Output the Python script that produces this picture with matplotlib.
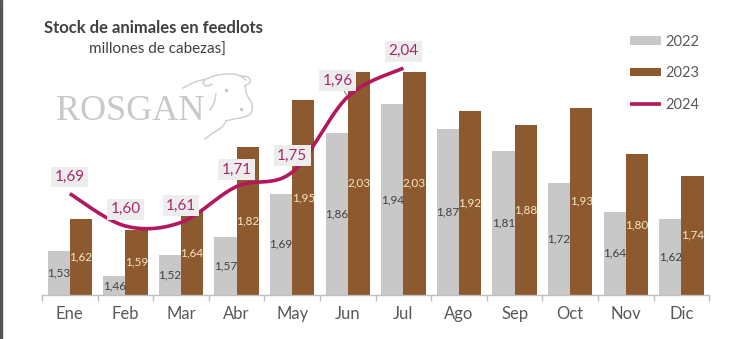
import numpy as np
import matplotlib
matplotlib.use("Agg")
import matplotlib.pyplot as plt
from matplotlib.lines import Line2D

plt.rcParams['font.family'] = ['Lato', 'DejaVu Sans']

categories = ["Ene", "Feb", "Mar", "Abr", "May", "Jun", "Jul", "Ago", "Sep", "Oct", "Nov", "Dic"]
s2022 = [1.53, 1.46, 1.52, 1.57, 1.69, 1.86, 1.94, 1.87, 1.81, 1.72, 1.64, 1.62]
s2023 = [1.62, 1.59, 1.64, 1.82, 1.95, 2.03, 2.03, 1.92, 1.88, 1.93, 1.80, 1.74]
s2024 = [1.69, 1.60, 1.61, 1.71, 1.75, 1.96, 2.04]
series_names = ["2022", "2023", "2024"]

C22 = "#C8C8C8"
C23 = "#8C5A2E"
C24 = "#B3175E"
TXT = "#595959"


def catmull(px, py, k=40):
    px = np.asarray(px, float); py = np.asarray(py, float)
    n = len(px)
    xs, ys = [], []
    for i in range(n - 1):
        p0 = np.array([px[max(i - 1, 0)], py[max(i - 1, 0)]])
        p1 = np.array([px[i], py[i]])
        p2 = np.array([px[i + 1], py[i + 1]])
        p3 = np.array([px[min(i + 2, n - 1)], py[min(i + 2, n - 1)]])
        c1 = p1 + (p2 - p0) / 6
        c2 = p2 - (p3 - p1) / 6
        t = np.linspace(0, 1, k)[:, None]
        pts = ((1 - t) ** 3) * p1 + 3 * ((1 - t) ** 2) * t * c1 + 3 * (1 - t) * t ** 2 * c2 + t ** 3 * p2
        xs.extend(pts[:, 0]); ys.extend(pts[:, 1])
    return np.array(xs), np.array(ys)


fig = plt.figure(figsize=(7.30, 3.39), dpi=100)
ax = fig.add_axes([0.0575, 0.13, 0.914, 0.7646])
ax.set_facecolor("none")

x = np.arange(len(categories))
w = 0.4
b22 = ax.bar(x - w / 2, s2022, width=w, color=C22, label=series_names[0], zorder=2)
b23 = ax.bar(x + w / 2, s2023, width=w, color=C23, label=series_names[1], zorder=2)

ymin, ymax = 1.408, 2.13
ax.set_ylim(ymin, ymax)
ax.set_xlim(-0.5, len(categories) - 0.5)

for xi, v in zip(x, s2022):
    ax.text(xi - w / 2, (ymin + v) / 2, f"{v:.2f}".replace(".", ","), ha="center", va="center",
            fontsize=8.5, color="#404040", zorder=3)
for xi, v in zip(x, s2023):
    ax.text(xi + w / 2, (ymin + v) / 2, f"{v:.2f}".replace(".", ","), ha="center", va="center",
            fontsize=8.5, color="#F8E6C4", zorder=3)

# smoothed line (like Excel smoothing)
px = np.arange(len(s2024), dtype=float)
xs, ys = catmull(px, s2024)
ln, = ax.plot(xs, ys, color=C24, lw=2.6, solid_capstyle="butt", zorder=4, label=series_names[2])

for i, v in enumerate(s2024):
    lab = f"{v:.2f}".replace(".", ",")
    if i == 5:
        ax.annotate(lab, (px[i], v), xytext=(-7.5, 11.5), textcoords="offset points",
                    ha="center", va="center", fontsize=11, color="#A8286A", zorder=5,
                    bbox=dict(boxstyle="square,pad=0.22", fc="#EDEDED", ec="none"),
                    arrowprops=dict(arrowstyle="-", color="#8C8C8C", lw=0.8, shrinkA=0, shrinkB=1))
    else:
        ax.annotate(lab, (px[i], v), xytext=(0, 12), textcoords="offset points",
                    ha="center", va="center", fontsize=11, color="#A8286A", zorder=5,
                    bbox=dict(boxstyle="square,pad=0.22", fc="#EDEDED", ec="none"))

for s in ["top", "right", "left"]:
    ax.spines[s].set_visible(False)
ax.spines["bottom"].set_color("#BFBFBF")
ax.spines["bottom"].set_linewidth(1.0)
ax.set_yticks([])
ax.set_xticks(x)
ax.set_xticklabels(categories, fontsize=12, color=TXT)
ax.tick_params(axis="x", which="major", length=0, pad=8)
ax.set_xticks(np.arange(-0.5, len(categories), 1.0), minor=True)
ax.tick_params(axis="x", which="minor", length=4, color="#BFBFBF", width=1.0)

leg = ax.legend(handles=[b22, b23, ln], loc="upper left", bbox_to_anchor=(0.862, 1.055),
                frameon=False, fontsize=10.5,
                handlelength=2.1, handleheight=0.5, labelspacing=1.2, handletextpad=0.3,
                labelcolor=TXT)

fig.text(0.21, 0.917, "Stock de animales en feedlots", ha="center", va="center",
         fontsize=12, fontweight="bold", color="#404040")
fig.text(0.215, 0.853, "millones de cabezas]", ha="center", va="center",
         fontsize=11, color="#404040")
fig.text(0.178, 0.67, "ROSGAN", ha="center", va="center", fontsize=26,
         family="Liberation Serif", color="#C8C8C8", zorder=0)

# watermark logo: simple cow-head outline (decorative, figure pixel coords)
W, H = 730.0, 339.0
logo_strokes = [
    [(183, 88), (195, 82), (206, 79), (214, 76), (226, 74), (238, 75), (246, 80)],
    [(206, 79), (203, 83), (207, 86), (212, 84)],
    [(240, 76), (248, 77), (250, 82), (245, 86)],
    [(245, 86), (247, 95), (252, 104), (251, 113), (244, 117), (234, 119), (226, 121)],
    [(226, 121), (222, 127), (213, 133), (205, 139)],
    [(216, 94), (214, 103), (210, 110)],
]
for stroke in logo_strokes:
    sx, sy = catmull([p[0] for p in stroke], [p[1] for p in stroke], k=20)
    fig.add_artist(Line2D(sx / W, 1 - sy / H, transform=fig.transFigure,
                          color="#CFCFCF", lw=1.1, zorder=1))
fig.add_artist(Line2D([226 / W], [1 - 90 / H], transform=fig.transFigure, marker="o",
                      ms=1.5, color="#C8C8C8", lw=0, zorder=1))
fig.add_artist(Line2D([241 / W], [1 - 109 / H], transform=fig.transFigure, marker="o",
                      ms=1.5, color="#C8C8C8", lw=0, zorder=1))

fig.patches.append(plt.Rectangle((0, 0), 0.003, 1, transform=fig.transFigure,
                                 color="#555555", zorder=10))

fig.savefig("out.png", dpi=100)
